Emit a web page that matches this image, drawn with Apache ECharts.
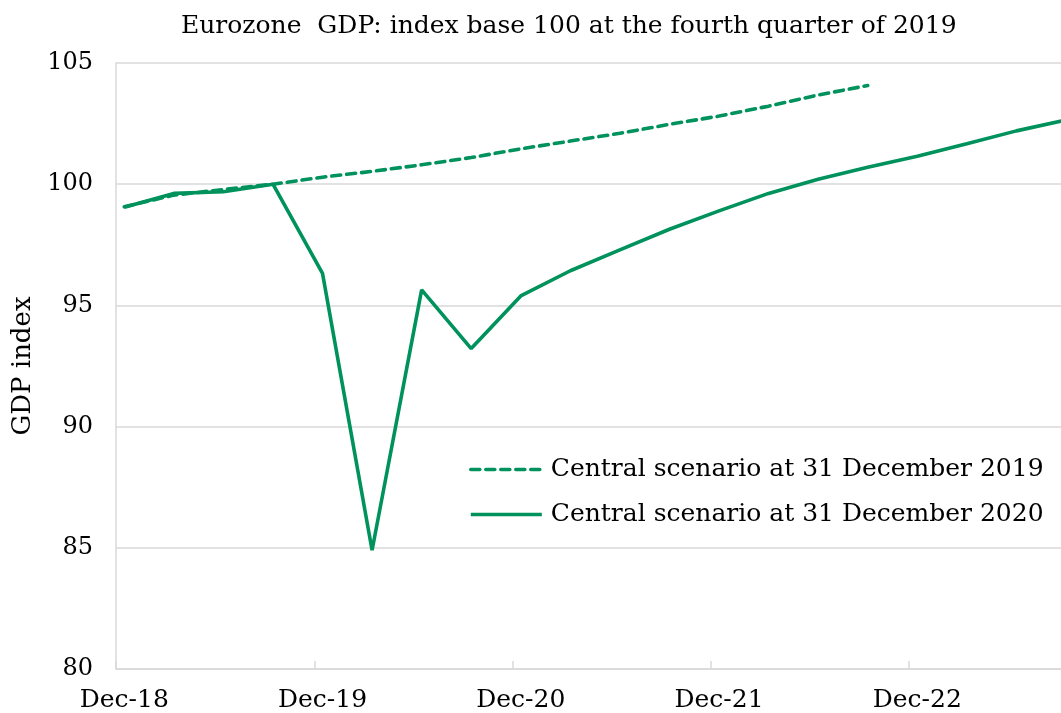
<!DOCTYPE html>
<html>
<head>
<meta charset="utf-8">
<script src="https://cdn.jsdelivr.net/npm/echarts@6/dist/echarts.min.js"></script>
<style>
html,body{margin:0;padding:0;background:#fff;}
#c{width:1061px;height:713px;}
</style>
</head>
<body>
<div id="c"></div>
<script>
// Quarterly observation dates as plotted (month labels)
const quarters = ['Dec-18','Mar-19','Jun-19','Sep-19','Dec-19','Mar-20','Jun-20','Sep-20',
  'Dec-20','Mar-21','Jun-21','Sep-21','Dec-21','Mar-22','Jun-22','Sep-22',
  'Dec-22','Mar-23','Jun-23','Sep-23'];
// Central scenario at 31 December 2019 (dashed)
const scenario2019 = [99.07,99.55,99.78,100.0,100.29,100.53,100.8,101.1,101.46,101.78,102.1,102.47,102.81,103.22,103.68,104.07];
// Central scenario at 31 December 2020 (solid)
const scenario2020 = [99.05,99.62,99.69,100.0,96.32,84.9,95.64,93.22,95.39,96.43,97.29,98.14,98.9,99.62,100.2,100.7,101.15,101.67,102.2,102.65];
// x-axis tick labels (December of each year)
const tickLabels = ['Dec-18','Dec-19','Dec-20','Dec-21','Dec-22'];
const yTicks = [80,85,90,95,100,105];

// months since start of Dec-18; points plotted mid-month
function monthPos(label){
  const mon = {Mar:3,Jun:6,Sep:9,Dec:12}[label.slice(0,3)];
  const yr = 2000 + parseInt(label.slice(4),10);
  return (yr - 2018)*12 + (mon - 12) + 0.5;
}
const tickPos = tickLabels.map(l => monthPos(l) - 0.5);
const labelPos = tickLabels.map(l => monthPos(l));
const labelMap = {};
tickLabels.forEach((l,i)=>{labelMap[labelPos[i]] = l;});

const green = '#00925c';
const font = 'DejaVu Serif';

const chart = echarts.init(document.getElementById('c'));
chart.setOption({
  animation:false,
  backgroundColor:'#fff',
  title:{
    text:'Eurozone  GDP: index base 100 at the fourth quarter of 2019',
    left:181, top:14, padding:0,
    textStyle:{fontFamily:font,fontSize:25,fontWeight:'normal',color:'#000'}
  },
  grid:{left:116,right:0,top:63,bottom:44,containLabel:false},
  legend:{
    orient:'vertical', left:469, top:457, padding:0,
    itemWidth:71, itemHeight:14, itemGap:20,
    itemStyle:{opacity:0},
    lineStyle:{width:3.6},
    textStyle:{fontFamily:font,fontSize:25,color:'#000',padding:[0,0,0,4]},
    data:['Central scenario at 31 December 2019','Central scenario at 31 December 2020']
  },
  xAxis:{
    type:'value', min:0, max:57.2,
    axisLine:{show:true,lineStyle:{color:'#d9d9d9',width:1.5}},
    axisTick:{show:true,inside:true,length:8,lineStyle:{color:'#d9d9d9',width:1.5},customValues:tickPos},
    axisLabel:{customValues:labelPos,formatter:v=>labelMap[v]||'',fontFamily:font,fontSize:25,color:'#000',margin:19},
    splitLine:{show:false}
  },
  yAxis:{
    type:'value', min:80, max:105, interval:5,
    name:'GDP index', nameLocation:'middle', nameGap:80, nameRotate:90,
    nameTextStyle:{fontFamily:font,fontSize:26,color:'#000'},
    axisLine:{show:true,lineStyle:{color:'#d9d9d9',width:1.5}},
    axisTick:{show:false},
    axisLabel:{fontFamily:font,fontSize:24,color:'#000',margin:23,customValues:yTicks},
    splitLine:{show:true,lineStyle:{color:'#d9d9d9',width:1.5}}
  },
  series:[
    {
      name:'Central scenario at 31 December 2019', type:'line', symbol:'none',
      lineStyle:{color:green,width:3.6,type:[9,6],cap:'round'},
      itemStyle:{color:green},
      data:scenario2019.map((v,i)=>[monthPos(quarters[i]),v]),
      z:3
    },
    {
      name:'Central scenario at 31 December 2020', type:'line', symbol:'none',
      lineStyle:{color:green,width:3.6},
      itemStyle:{color:green},
      data:scenario2020.map((v,i)=>[monthPos(quarters[i]),v]),
      clip:true, z:2
    }
  ]
});
</script>
</body>
</html>
